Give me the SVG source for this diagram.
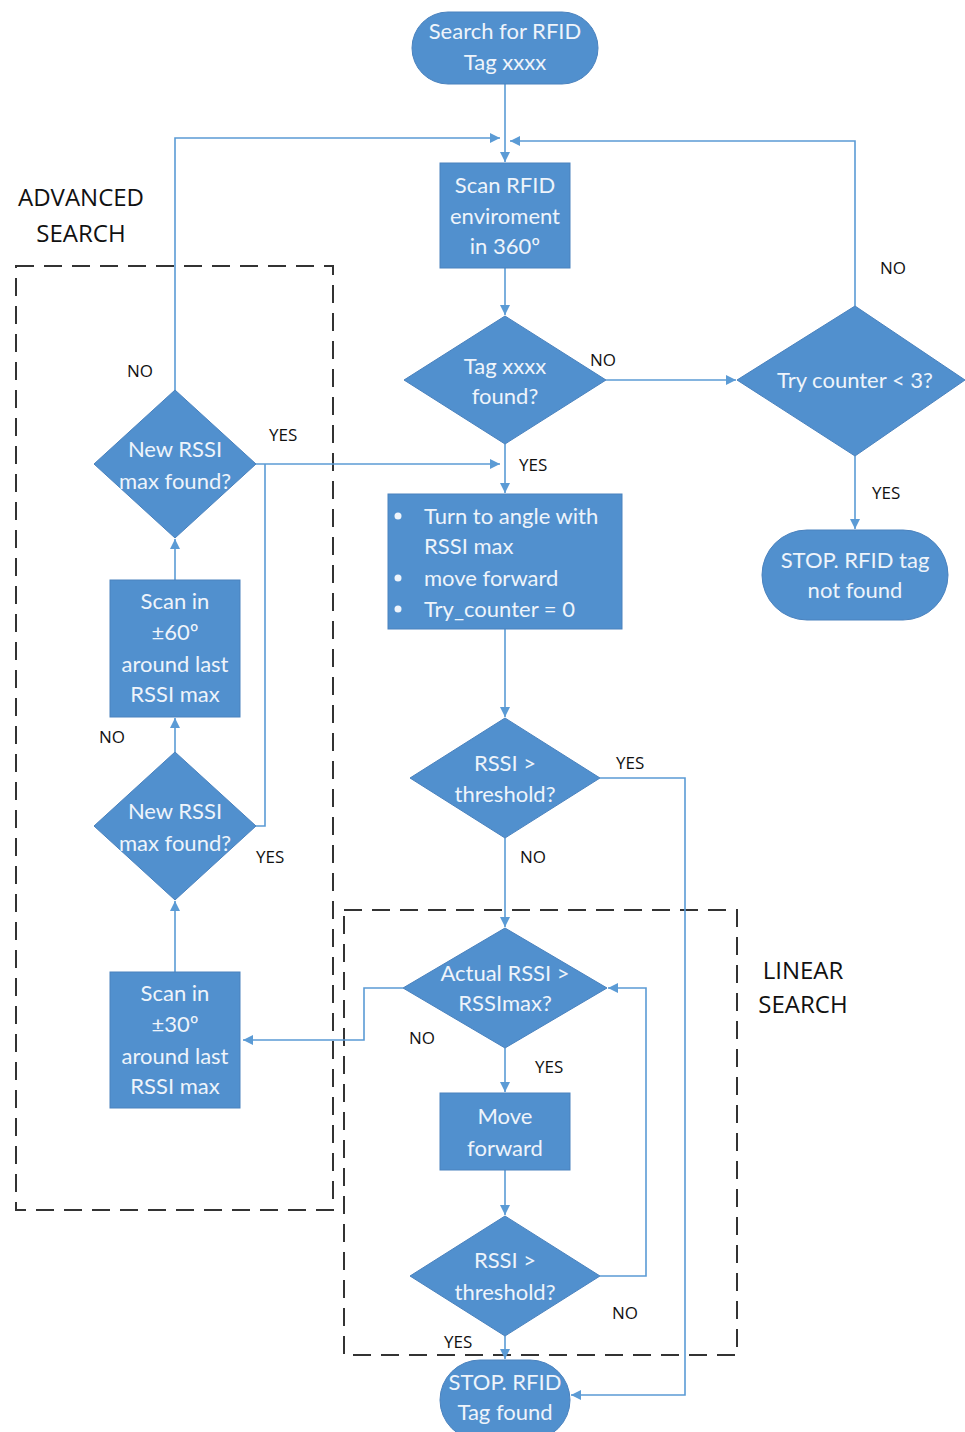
<svg xmlns="http://www.w3.org/2000/svg" width="965" height="1432" viewBox="0 0 965 1432">
<defs>
<marker id="arr" viewBox="0 0 10 10" refX="10" refY="5" markerWidth="10" markerHeight="10" markerUnits="userSpaceOnUse" orient="auto">
<path d="M0,0 L10,5 L0,10 z" fill="#5B9BD5"/>
</marker>
</defs>
<style>
.shape{fill:#5190CE;stroke:#4A82BE;stroke-width:1}
.t{font-family:Lato,"Open Sans",sans-serif;font-size:22px;fill:#EEF4FB;text-anchor:middle}
.tl{font-family:Lato,"Open Sans",sans-serif;font-size:22px;fill:#EEF4FB}
.lbl{font-family:"Open Sans","Liberation Sans",sans-serif;font-size:17px;fill:#111}
.grp{font-family:"Open Sans","Liberation Sans",sans-serif;font-size:24px;fill:#111;text-anchor:middle}
.c{fill:none;stroke:#5B9BD5;stroke-width:1.6}
.dash{fill:none;stroke:#333;stroke-width:2;stroke-dasharray:18,10}
</style>
<rect width="965" height="1432" fill="#fff"/>

<g id="groups">
<rect class="dash" x="16" y="266" width="317" height="944"/>
<text class="grp" x="81" y="206">ADVANCED</text>
<text class="grp" x="81" y="242">SEARCH</text>
<rect class="dash" x="344" y="910" width="393" height="445"/>
<text class="grp" x="803" y="979">LINEAR</text>
<text class="grp" x="803" y="1013">SEARCH</text>
</g>

<g id="connectors">
<path class="c" d="M505,84 V162" marker-end="url(#arr)"/>
<path class="c" d="M175,390 V138 H500" marker-end="url(#arr)"/>
<path class="c" d="M855,306 V141 H510" marker-end="url(#arr)"/>
<path class="c" d="M505,268 V315" marker-end="url(#arr)"/>
<path class="c" d="M606,380 H736" marker-end="url(#arr)"/>
<path class="c" d="M855,456 V529" marker-end="url(#arr)"/>
<path class="c" d="M505,444 V493" marker-end="url(#arr)"/>
<path class="c" d="M256,464 H500" marker-end="url(#arr)"/>
<path class="c" d="M256,826 H265 V464"/>
<path class="c" d="M505,629 V717" marker-end="url(#arr)"/>
<path class="c" d="M600,778 H685 V1395 H571" marker-end="url(#arr)"/>
<path class="c" d="M505,838 V927" marker-end="url(#arr)"/>
<path class="c" d="M403,988 H364 V1040 H243" marker-end="url(#arr)"/>
<path class="c" d="M505,1048 V1092" marker-end="url(#arr)"/>
<path class="c" d="M505,1170 V1215" marker-end="url(#arr)"/>
<path class="c" d="M600,1276 H646 V988 H608" marker-end="url(#arr)"/>
<path class="c" d="M505,1336 V1359" marker-end="url(#arr)"/>
<path class="c" d="M175,580 V539" marker-end="url(#arr)"/>
<path class="c" d="M175,752 V718" marker-end="url(#arr)"/>
<path class="c" d="M175,972 V901" marker-end="url(#arr)"/>
<text class="lbl" x="590" y="366">NO</text>
<text class="lbl" x="880" y="274">NO</text>
<text class="lbl" x="872" y="499">YES</text>
<text class="lbl" x="519" y="471">YES</text>
<text class="lbl" x="269" y="441">YES</text>
<text class="lbl" x="127" y="377">NO</text>
<text class="lbl" x="99" y="743">NO</text>
<text class="lbl" x="256" y="863">YES</text>
<text class="lbl" x="616" y="769">YES</text>
<text class="lbl" x="520" y="863">NO</text>
<text class="lbl" x="409" y="1044">NO</text>
<text class="lbl" x="535" y="1073">YES</text>
<text class="lbl" x="612" y="1319">NO</text>
<text class="lbl" x="444" y="1348">YES</text>
</g>

<g id="start">
<rect class="shape" x="412" y="12" width="186" height="72" rx="36"/>
<text class="t" x="505" y="39">Search for RFID</text>
<text class="t" x="505" y="70">Tag xxxx</text>
</g>

<g id="scan360">
<rect class="shape" x="440" y="163" width="130" height="105"/>
<text class="t" x="505" y="193">Scan RFID</text>
<text class="t" x="505" y="224">enviroment</text>
<text class="t" x="505" y="254">in 360º</text>
</g>

<g id="tagfound">
<polygon class="shape" points="505,316 606,380 505,444 404,380"/>
<text class="t" x="505" y="374">Tag xxxx</text>
<text class="t" x="505" y="404">found?</text>
</g>

<g id="trycounter">
<polygon class="shape" points="855,306 965,380 855,456 737,380"/>
<text class="t" x="855" y="388">Try counter &lt; 3?</text>
</g>

<g id="stopnotfound">
<rect class="shape" x="762" y="530" width="186" height="90" rx="45"/>
<text class="t" x="855" y="568">STOP. RFID tag</text>
<text class="t" x="855" y="598">not found</text>
</g>

<g id="turn">
<rect class="shape" x="388" y="494" width="234" height="135"/>
<circle cx="398" cy="516" r="3.5" fill="#EEF4FB"/>
<circle cx="398" cy="578" r="3.5" fill="#EEF4FB"/>
<circle cx="398" cy="609" r="3.5" fill="#EEF4FB"/>
<text class="tl" x="424" y="524">Turn to angle with</text>
<text class="tl" x="424" y="554">RSSI max</text>
<text class="tl" x="424" y="586">move forward</text>
<text class="tl" x="424" y="617">Try_counter = 0</text>
</g>

<g id="threshold1">
<polygon class="shape" points="505,718 600,778 505,838 410,778"/>
<text class="t" x="505" y="771">RSSI &gt;</text>
<text class="t" x="505" y="802">threshold?</text>
</g>

<g id="actual">
<polygon class="shape" points="505,928 607,988 505,1048 403,988"/>
<text class="t" x="505" y="981">Actual RSSI &gt;</text>
<text class="t" x="505" y="1011">RSSImax?</text>
</g>

<g id="moveforward">
<rect class="shape" x="440" y="1093" width="130" height="77"/>
<text class="t" x="505" y="1124">Move</text>
<text class="t" x="505" y="1156">forward</text>
</g>

<g id="threshold2">
<polygon class="shape" points="505,1216 600,1276 505,1336 410,1276"/>
<text class="t" x="505" y="1268">RSSI &gt;</text>
<text class="t" x="505" y="1300">threshold?</text>
</g>

<g id="stopfound">
<rect class="shape" x="440" y="1360" width="130" height="80" rx="40"/>
<text class="t" x="505" y="1390">STOP. RFID</text>
<text class="t" x="505" y="1420">Tag found</text>
</g>

<g id="newrssi1">
<polygon class="shape" points="175,390 256,464 175,538 94,464"/>
<text class="t" x="175" y="457">New RSSI</text>
<text class="t" x="175" y="489">max found?</text>
</g>

<g id="scan60">
<rect class="shape" x="110" y="580" width="130" height="137"/>
<text class="t" x="175" y="609">Scan in</text>
<text class="t" x="175" y="640">±60º</text>
<text class="t" x="175" y="672">around last</text>
<text class="t" x="175" y="702">RSSI max</text>
</g>

<g id="newrssi2">
<polygon class="shape" points="175,752 256,826 175,900 94,826"/>
<text class="t" x="175" y="819">New RSSI</text>
<text class="t" x="175" y="851">max found?</text>
</g>

<g id="scan30">
<rect class="shape" x="110" y="972" width="130" height="136"/>
<text class="t" x="175" y="1001">Scan in</text>
<text class="t" x="175" y="1032">±30º</text>
<text class="t" x="175" y="1064">around last</text>
<text class="t" x="175" y="1094">RSSI max</text>
</g>
</svg>
